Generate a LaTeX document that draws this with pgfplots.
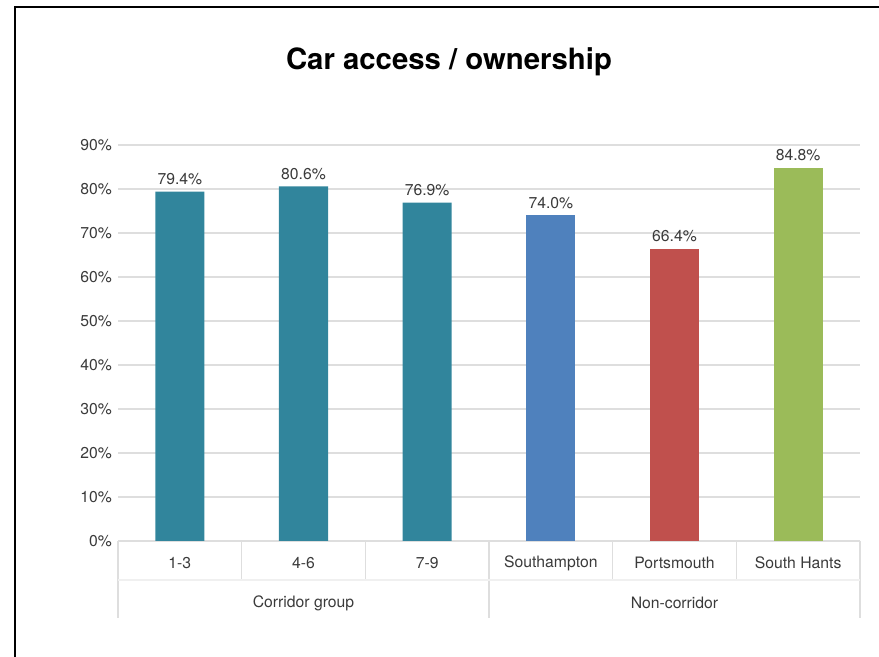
\documentclass[border=0pt]{standalone}
\usepackage{fontspec}
\setmainfont{TeX Gyre Heros}
\setsansfont{TeX Gyre Heros}
\usepackage{pgfplots}
\pgfplotsset{compat=1.18}
\definecolor{teal1}{HTML}{31859C}
\definecolor{blue1}{HTML}{4F81BD}
\definecolor{red1}{HTML}{C0504D}
\definecolor{green1}{HTML}{9BBB59}
\definecolor{txt}{HTML}{3A3A3A}
\begin{document}
\begin{tikzpicture}
\useasboundingbox (0,0) rectangle (659.25pt,492.75pt);
\draw[line width=1pt] (11.25pt,0) -- (11.25pt,487.5pt) -- (659.25pt,487.5pt);
\node[font=\fontsize{22}{24}\selectfont\bfseries] at (336.75pt,446.25pt) {Car access / ownership};
\begin{axis}[
  at={(88.5pt,87pt)}, anchor=south west,
  width=556.5pt, height=297pt, scale only axis,
  xmin=-0.5, xmax=5.5, ymin=0, ymax=90,
  ybar, bar width=36.75pt, bar shift=0pt,
  axis line style={draw=none},
  ymajorgrids, major grid style={draw=black!13, line width=0.9pt},
  ytick={0,10,...,90},
  yticklabel={\pgfmathprintnumber{\tick}\%},
  xtick={0,...,5},
  xticklabels={1-3,4-6,7-9,Southampton,Portsmouth,South Hants},
  major tick length=0pt,
  /pgf/number format/assume math mode=true,
  tick label style={font=\fontsize{11.8}{13}\selectfont, text=txt},
  xticklabel style={anchor=center, yshift=-16.5pt},
  yticklabel style={xshift=-1pt},
  nodes near coords={\pgfmathprintnumber[fixed,precision=1,fixed zerofill]{\pgfplotspointmeta}\%},
  every node near coord/.append style={font=\fontsize{11.8}{13}\selectfont, text=txt, yshift=1.5pt},
  clip=false,
]
\addplot[fill=teal1, draw=none] coordinates {(0,79.4) (1,80.6) (2,76.9)};
\addplot[fill=blue1, draw=none] coordinates {(3,74.0)};
\addplot[fill=red1, draw=none] coordinates {(4,66.4)};
\addplot[fill=green1, draw=none] coordinates {(5,84.8)};
\pgfplotsinvokeforeach{-0.5,2.5,5.5}{
  \draw[black!13, line width=0.9pt] (axis cs:#1,0) -- ([yshift=-57.75pt]axis cs:#1,0);
}
\pgfplotsinvokeforeach{0.5,1.5,3.5,4.5}{
  \draw[black!13, line width=0.9pt] (axis cs:#1,0) -- ([yshift=-29.25pt]axis cs:#1,0);
}
\draw[black!6, line width=0.8pt] ([yshift=-29.25pt]axis cs:-0.5,0) -- ([yshift=-29.25pt]axis cs:5.5,0);
\node[font=\fontsize{11.8}{13}\selectfont, text=txt] at ([yshift=-46.5pt]axis cs:1,0) {Corridor group};
\node[font=\fontsize{11.8}{13}\selectfont, text=txt] at ([yshift=-46.5pt]axis cs:4,0) {Non-corridor};
\end{axis}
\end{tikzpicture}
\end{document}
